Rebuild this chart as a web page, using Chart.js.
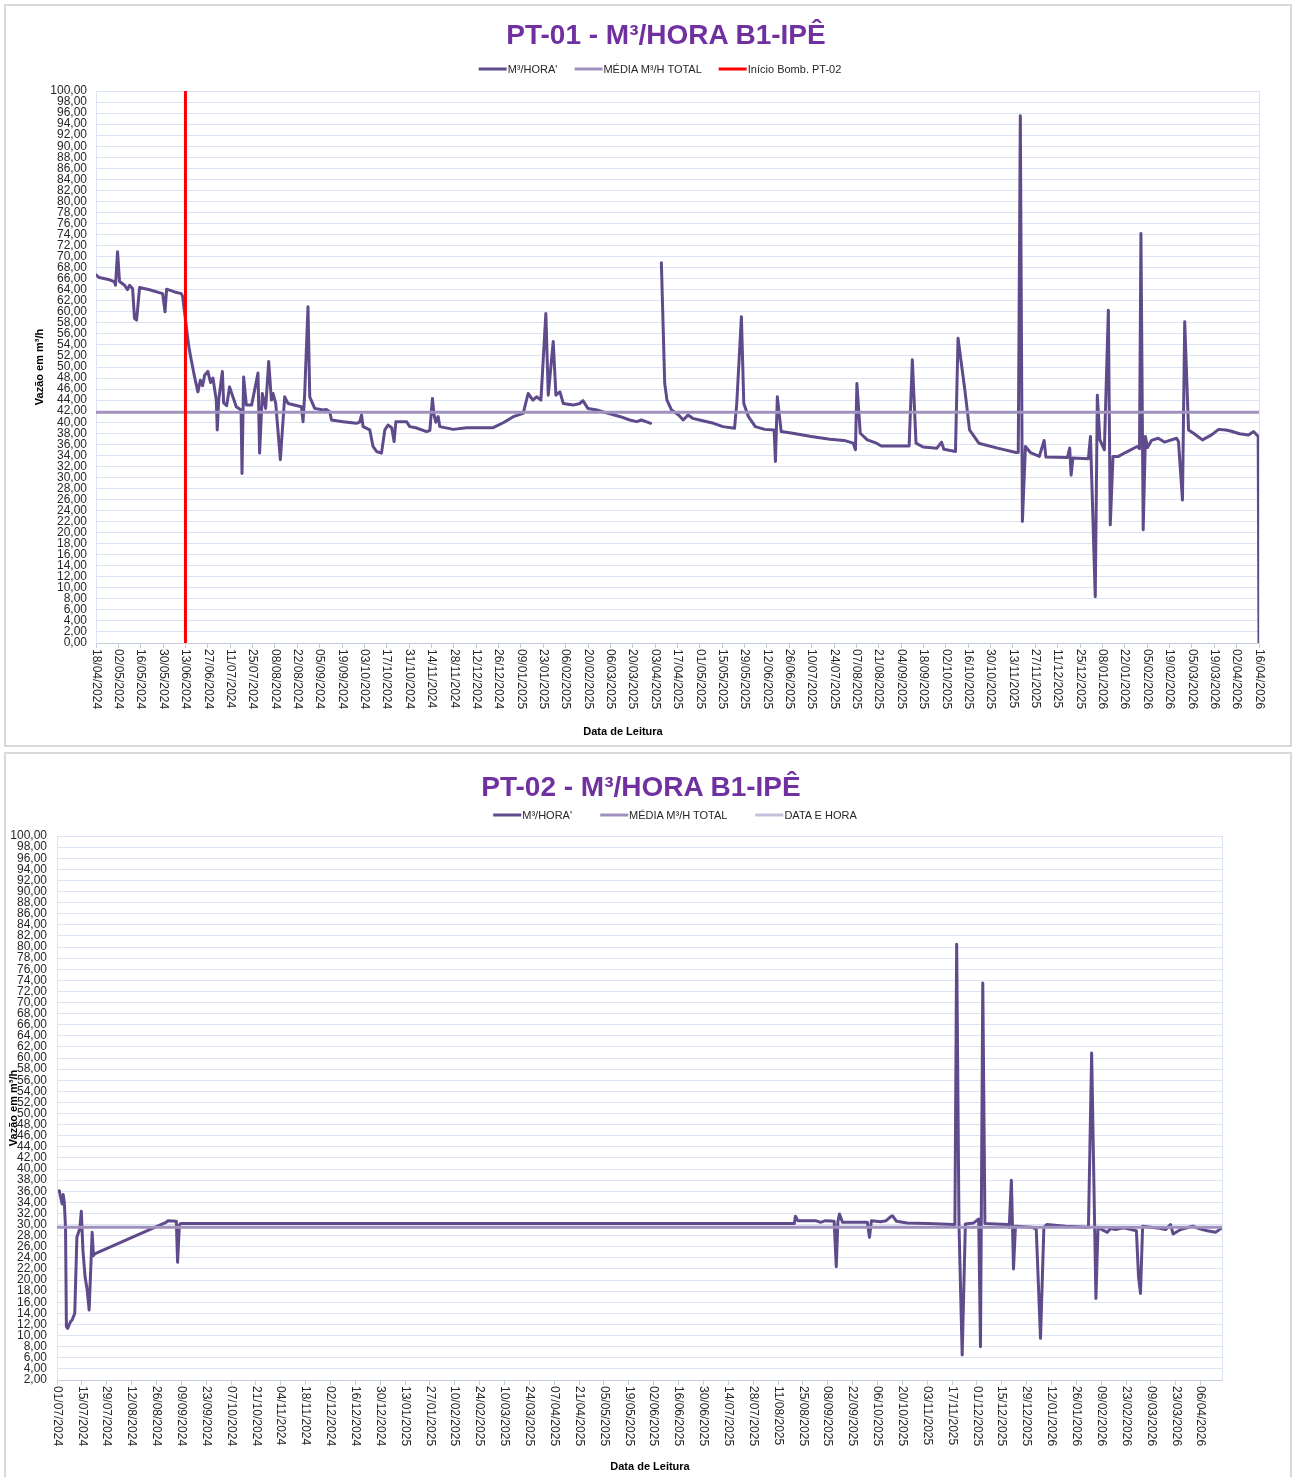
<!DOCTYPE html>
<html lang="pt-BR">
<head>
<meta charset="utf-8">
<title>PT-01 / PT-02 - M³/HORA B1-IPÊ</title>
<script src="https://cdn.jsdelivr.net/npm/chart.js@4.4.1/dist/chart.umd.min.js"></script>
<style>
	html, body { margin: 0; padding: 0; background: #fff; overflow: hidden; }
	body { width: 1293px; height: 1477px; position: relative; font-family: "Liberation Sans", Arial, sans-serif; }
	.panel { position: absolute; left: 4px; width: 1288px; border: 2px solid #d9d9d9; box-sizing: border-box; }
	.box { position: absolute; left: 0; top: 0; width: 1284px; }
	.ttl { position: absolute; transform: translate(-50%, -50%); font-weight: bold; font-size: 28px; line-height: 28px; color: #7030a0; white-space: nowrap; }
	.lg { position: absolute; transform: translate(-50%, -50%); display: flex; align-items: center; white-space: nowrap; font-size: 11px; line-height: 11px; color: #262626; }
	.lg .it { display: flex; align-items: center; }
	.lg .sw { display: inline-block; width: 28px; height: 3px; margin-right: 1px; }
	.xt { position: absolute; transform: translate(-50%, -50%); font-weight: bold; font-size: 11px; line-height: 11px; color: #000; white-space: nowrap; }
</style>
</head>
<body>

<div class="panel" style="top:4px;height:743px;">
	<div class="box" style="height:739px;"><canvas id="chartPT01"></canvas></div>
	<div class="ttl" style="left:660px;top:29px;">PT-01 - M³/HORA B1-IPÊ</div>
	<div class="lg" id="legendPT01" style="left:654px;top:63px;"></div>
	<div class="xt" style="left:617px;top:725px;">Data de Leitura</div>
</div>

<div class="panel" style="top:752px;height:740px;">
	<div class="box" style="height:723px;"><canvas id="chartPT02"></canvas></div>
	<div class="ttl" style="left:635px;top:33px;">PT-02 - M³/HORA B1-IPÊ</div>
	<div class="lg" id="legendPT02" style="left:669px;top:61px;"></div>
	<div class="xt" style="left:644px;top:712px;">Data de Leitura</div>
</div>

<script>
// ---- PT-01 : days counted from 18/04/2024 ----
const pt01Start = [2024, 4, 18];
const pt01Days = [
	0, 2, 8.5, 11.6, 12.2, 13.5, 14.7, 17.9, 19.7, 21,
	22.9, 24.1, 25.4, 27.3, 33.5, 41.7, 43.2, 44.2, 49.2, 53.4,
	54.2, 58.1, 59.6, 61.7, 63.8, 65.3, 66.7, 68, 70, 71.7,
	73.2, 75.3, 75.9, 76.8, 79.1, 79.9, 81.8, 83.6, 87.8, 90.8,
	91.4, 92.4, 94.1, 97.4, 101.4, 102.4, 104.1, 106.2, 108.1, 109.8,
	110.8, 112.5, 115.4, 118.1, 120.2, 128.6, 129.6, 130.6, 132.7, 133.8,
	136.9, 142.1, 144.2, 146.3, 147.4, 154.6, 163, 165, 166.2, 167.2,
	171.4, 173.4, 175.6, 178.7, 180.8, 182.8, 185.1, 186.6, 187.7, 194.4,
	196.4, 200.2, 206.9, 209, 210.6, 211.5, 212.7, 214.2, 215.2, 223.6,
	232, 248.6, 254.9, 261.2, 267.4, 270.5, 273.5, 275.8, 278.5, 281.6,
	283.1, 286.2, 287.9, 290.4, 292.5, 298.7, 302.9, 304.8, 307.9, 313.6,
	319.5, 328.3, 334.1, 338.5, 341.4, 344.3, 347.2, 350, 353.9, 356,
	357.4, 360.3, 364.7, 367.6, 370.6, 373.5, 377.8, 386.6, 392.4, 399.7,
	401.1, 404, 405.5, 408.4, 412.7, 418.6, 424.5, 425.3, 426.5, 428.9,
	436.1, 447.7, 459.4, 468.2, 474, 475.4, 476.3, 478.4, 482.8, 488.6,
	491.6, 509, 511, 513.3, 517.7, 526.4, 529.3, 530.7, 538, 539.6,
	543.9, 546.8, 552.6, 564.3, 575.9, 577.3, 578.6, 579.9, 581.8, 584.9,
	590.5, 593.5, 594.6, 608.1, 609.5, 610.4, 611.5, 621.2, 622.5, 625.5,
	626.8, 628.4, 631.2, 633.7, 634.9, 636.6, 640, 644.4, 651.7, 653.2,
	654.1, 655.5, 656.9, 658.2, 660.7, 664.9, 668.8, 676.4, 677.6, 680.1,
	681.5, 683.9, 687, 692.6, 698.3, 702.7, 707.1, 710.2, 715.8, 721.5,
	724.6, 727.5, 728
];
const pt01Flow = [
	66.7, 66.2, 65.8, 65.4, 64.8, 70.9, 65.5, 64.8, 64.0, 64.8,
	64.2, 58.8, 58.5, 64.4, 64.0, 63.3, 60.0, 64.1, 63.6, 63.3,
	62.8, 53.7, 51.3, 48.2, 45.5, 47.6, 46.6, 48.5, 49.2, 47.2,
	48.0, 44.0, 38.6, 44.0, 49.2, 43.5, 43.0, 46.4, 42.8, 42.2,
	30.7, 48.2, 43.1, 43.1, 48.9, 34.4, 45.2, 42.5, 51.0, 44.0,
	45.2, 43.4, 33.2, 44.6, 43.4, 42.8, 40.1, 44.9, 60.9, 44.6,
	42.5, 42.2, 42.3, 41.9, 40.4, 40.1, 39.8, 40.0, 41.3, 39.2,
	38.6, 35.6, 34.7, 34.4, 38.6, 39.5, 39.0, 36.5, 40.1, 40.1,
	39.2, 39.0, 38.3, 38.5, 44.3, 41.5, 40.0, 41.0, 39.2, 38.7,
	39.0, 39.0, 39.9, 41.0, 41.6, 45.2, 44.0, 44.6, 44.0, 59.7,
	44.9, 54.6, 44.9, 45.5, 43.4, 43.1, 43.4, 43.9, 42.5, 42.2,
	41.7, 41.0, 40.4, 40.1, 40.4, 40.1, 39.8, null, 68.9, 47.0,
	44.0, 42.2, 41.3, 40.4, 41.3, 40.7, 40.4, 39.8, 39.2, 38.9,
	43.4, 59.1, 43.4, 41.0, 39.2, 38.7, 38.6, 32.9, 44.6, 38.3,
	38.0, 37.4, 36.9, 36.7, 36.2, 35.0, 47.0, 38.0, 36.8, 36.2,
	35.7, 35.7, 51.3, 36.2, 35.5, 35.3, 36.4, 35.1, 34.7, 55.2,
	45.8, 38.6, 36.2, 35.3, 34.5, 34.5, 95.5, 22.0, 35.6, 34.5,
	33.8, 36.7, 33.7, 33.6, 35.3, 30.4, 33.5, 33.4, 37.4, 8.4,
	44.9, 36.8, 35.0, 60.3, 21.4, 33.8, 33.8, 34.5, 35.6, 35.2,
	74.2, 20.5, 37.4, 35.4, 36.7, 37.1, 36.4, 37.1, 36.5, 25.9,
	58.2, 38.6, 38.0, 36.8, 37.7, 38.7, 38.6, 38.4, 37.9, 37.7,
	38.3, 37.4, 0
];
const pt01Mean = 41.8;
const pt01PumpStartDay = 56; // 13/06/2024, start of PT-02
const pt01Legend = ["M³/HORA'", "MÉDIA M³/H TOTAL", "Início Bomb. PT-02"];

// ---- PT-02 : days counted from 01/07/2024 ----
const pt02Start = [2024, 7, 1];
const pt02Days = [
	1.3, 2, 2.9, 3.5, 4.1, 4.8, 5.3, 6, 7.6, 8.5,
	10, 11.2, 12.8, 13.7, 14.6, 15.8, 17, 18.1, 19.8, 20.5,
	21.2, 61.4, 62.5, 67.2, 67.9, 68.9, 69.6, 415.2, 415.8, 417.2,
	427.2, 430, 432.7, 437.6, 438.8, 439.7, 440.6, 442.3, 456.3, 457.5,
	458.6, 463.7, 466.9, 469.3, 470.4, 472.7, 478.7, 490.4, 504.5, 505.6,
	506.6, 507.9, 509.7, 511.5, 516.2, 519, 520, 521.3, 522.5, 535,
	536.2, 537.4, 538.6, 539.7, 549.1, 551.4, 553.8, 555.7, 557.3, 567.9,
	580.8, 582.6, 585, 586.2, 589, 591.4, 593.2, 596, 600.6, 607.8,
	609, 610.1, 611.3, 619.5, 624.2, 627, 628.5, 632.7, 639.4, 643.9,
	647.7, 652.4, 655.8
];
const pt02Flow = [
	36.1, 35.0, 33.7, 35.4, 34.0, 29.5, 11.6, 11.3, 12.5, 12.8,
	14.0, 27.7, 29.2, 32.4, 25.4, 20.6, 18.2, 14.6, 28.6, 24.4,
	24.7, 30.4, 30.7, 30.6, 23.2, 29.9, 30.2, 30.2, 31.5, 30.7,
	30.7, 30.4, 30.7, 30.6, 22.4, 30.5, 31.9, 30.4, 30.4, 27.7,
	30.7, 30.5, 30.7, 31.4, 31.6, 30.6, 30.3, 30.2, 30.0, 30.0,
	80.5, 30.0, 6.5, 30.1, 30.3, 31.0, 8.0, 73.5, 30.2, 30.0,
	29.5, 38.0, 22.0, 29.7, 29.5, 29.2, 9.5, 29.5, 30.0, 29.7,
	29.5, 60.9, 16.7, 29.5, 29.0, 28.6, 29.3, 29.1, 29.4, 28.9,
	20.6, 17.6, 29.7, 29.4, 29.1, 30.0, 28.3, 29.1, 29.7, 29.2,
	28.9, 28.6, 29.4
];
const pt02Mean = 29.5;
const pt02Legend = ["M³/HORA'", "MÉDIA M³/H TOTAL", "DATA E HORA"];

const FLOW_COLOR = "#5f4b8b";
const MEAN_COLOR = "#a091be";
const DATE_COLOR = "#c8bfdb";
const PUMP_COLOR = "#ff0000";
const GRID_COLOR = "#d9e3f3";
const TICK_COLOR = "#c3cddc";
const TEXT_COLOR = "#262626";
const FONT = '"Liberation Sans", Arial, sans-serif';

function dayLabel(start, d) {
	const dt = new Date(Date.UTC(start[0], start[1] - 1, start[2] + d));
	return String(dt.getUTCDate()).padStart(2, "0") + "/" +
		String(dt.getUTCMonth() + 1).padStart(2, "0") + "/" + dt.getUTCFullYear();
}

function toPoints(days, values) {
	return days.map((d, i) => ({ x: d, y: values[i] }));
}

// x labels read top-to-bottom (rotated clockwise), like the spreadsheet
const dateTicks = {
	id: "dateTicks",
	afterDraw(chart, args, opts) {
		const s = chart.scales.x;
		const ctx = chart.ctx;
		ctx.save();
		ctx.font = "12px " + FONT;
		ctx.fillStyle = TEXT_COLOR;
		ctx.textAlign = "left";
		ctx.textBaseline = "middle";
		s.ticks.forEach(t => {
			if (t.value % 14 !== 0) return;
			ctx.save();
			ctx.translate(s.getPixelForValue(t.value), s.top + 6);
			ctx.rotate(Math.PI / 2);
			ctx.fillText(dayLabel(opts.start, t.value), 0, 0);
			ctx.restore();
		});
		ctx.restore();
	}
};

function makeChart(id, cfg) {
	return new Chart(document.getElementById(id), {
		type: "line",
		data: { datasets: cfg.datasets },
		plugins: [dateTicks],
		options: {
			responsive: true,
			maintainAspectRatio: false,
			animation: false,
			events: [],
			layout: { padding: cfg.padding },
			elements: {
				point: { radius: 0 },
				line: { tension: 0, borderJoinStyle: "round", borderCapStyle: "round" }
			},
			plugins: {
				legend: { display: false },
				title: { display: false },
				tooltip: { enabled: false },
				dateTicks: { start: cfg.start }
			},
			scales: {
				x: {
					type: "linear",
					min: 0,
					max: cfg.xMax,
					afterFit: s => { s.height = cfg.xHeight; },
					ticks: { display: false, stepSize: 14, autoSkip: false, includeBounds: false },
					grid: { drawOnChartArea: false, drawTicks: true, tickLength: 5, tickColor: TICK_COLOR },
					border: { color: TICK_COLOR }
				},
				y: {
					min: cfg.yMin,
					max: 100,
					afterFit: s => { s.width = cfg.yWidth; },
					ticks: {
						stepSize: 2,
						autoSkip: false,
						padding: cfg.yTickPad,
						color: TEXT_COLOR,
						font: { family: FONT, size: 12, lineHeight: 1 },
						callback: v => v.toFixed(2).replace(".", ",")
					},
					grid: { color: GRID_COLOR, drawTicks: false },
					border: { color: GRID_COLOR },
					title: {
						display: true,
						text: "Vazão em m³/h",
						color: "#000",
						font: { family: FONT, size: 11, weight: "bold" },
						padding: { top: cfg.yTitlePad, bottom: 0 }
					}
				},
				// right-hand frame line of the plot area
				frame: {
					position: "right",
					min: cfg.yMin,
					max: 100,
					afterFit: s => { s.width = 0; },
					ticks: { display: false },
					grid: { display: false },
					border: { color: GRID_COLOR }
				}
			}
		}
	});
}

function buildLegend(elId, chart, gap) {
	const el = document.getElementById(elId);
	chart.data.datasets.forEach((ds, i) => {
		const it = document.createElement("span");
		it.className = "it";
		if (i) it.style.marginLeft = gap + "px";
		const sw = document.createElement("span");
		sw.className = "sw";
		sw.style.background = ds.borderColor;
		const tx = document.createElement("span");
		tx.textContent = ds.label;
		it.append(sw, tx);
		el.append(it);
	});
}

window.addEventListener("DOMContentLoaded", () => {
	const chart1 = makeChart("chartPT01", {
		start: pt01Start, xMax: 728, yMin: 0,
		padding: { top: 85, right: 31, bottom: 22, left: 0 },
		xHeight: 80, yWidth: 90, yTickPad: 9, yTitlePad: 27,
		datasets: [
			{ label: pt01Legend[0], data: toPoints(pt01Days, pt01Flow), borderColor: FLOW_COLOR, backgroundColor: FLOW_COLOR, borderWidth: 3, spanGaps: false, order: 2 },
			{ label: pt01Legend[1], data: toPoints([0, 728], [pt01Mean, pt01Mean]), borderColor: MEAN_COLOR, backgroundColor: MEAN_COLOR, borderWidth: 3, order: 1 },
			{ label: pt01Legend[2], data: toPoints([pt01PumpStartDay, pt01PumpStartDay], [0, 100]), borderColor: PUMP_COLOR, backgroundColor: PUMP_COLOR, borderWidth: 3, order: 0 }
		]
	});
	buildLegend("legendPT01", chart1, 17);

	const chart2 = makeChart("chartPT02", {
		start: pt02Start, xMax: 656, yMin: 2,
		padding: { top: 82, right: 68, bottom: 17, left: 0 },
		xHeight: 80, yWidth: 51, yTickPad: 10, yTitlePad: 1,
		datasets: [
			{ label: pt02Legend[0], data: toPoints(pt02Days, pt02Flow), borderColor: FLOW_COLOR, backgroundColor: FLOW_COLOR, borderWidth: 3, order: 2 },
			{ label: pt02Legend[1], data: toPoints([0, 656], [pt02Mean, pt02Mean]), borderColor: MEAN_COLOR, backgroundColor: MEAN_COLOR, borderWidth: 3, order: 1 },
			{ label: pt02Legend[2], data: [], borderColor: DATE_COLOR, backgroundColor: DATE_COLOR, borderWidth: 3, order: 0 }
		]
	});
	buildLegend("legendPT02", chart2, 28);
});
</script>
</body>
</html>
